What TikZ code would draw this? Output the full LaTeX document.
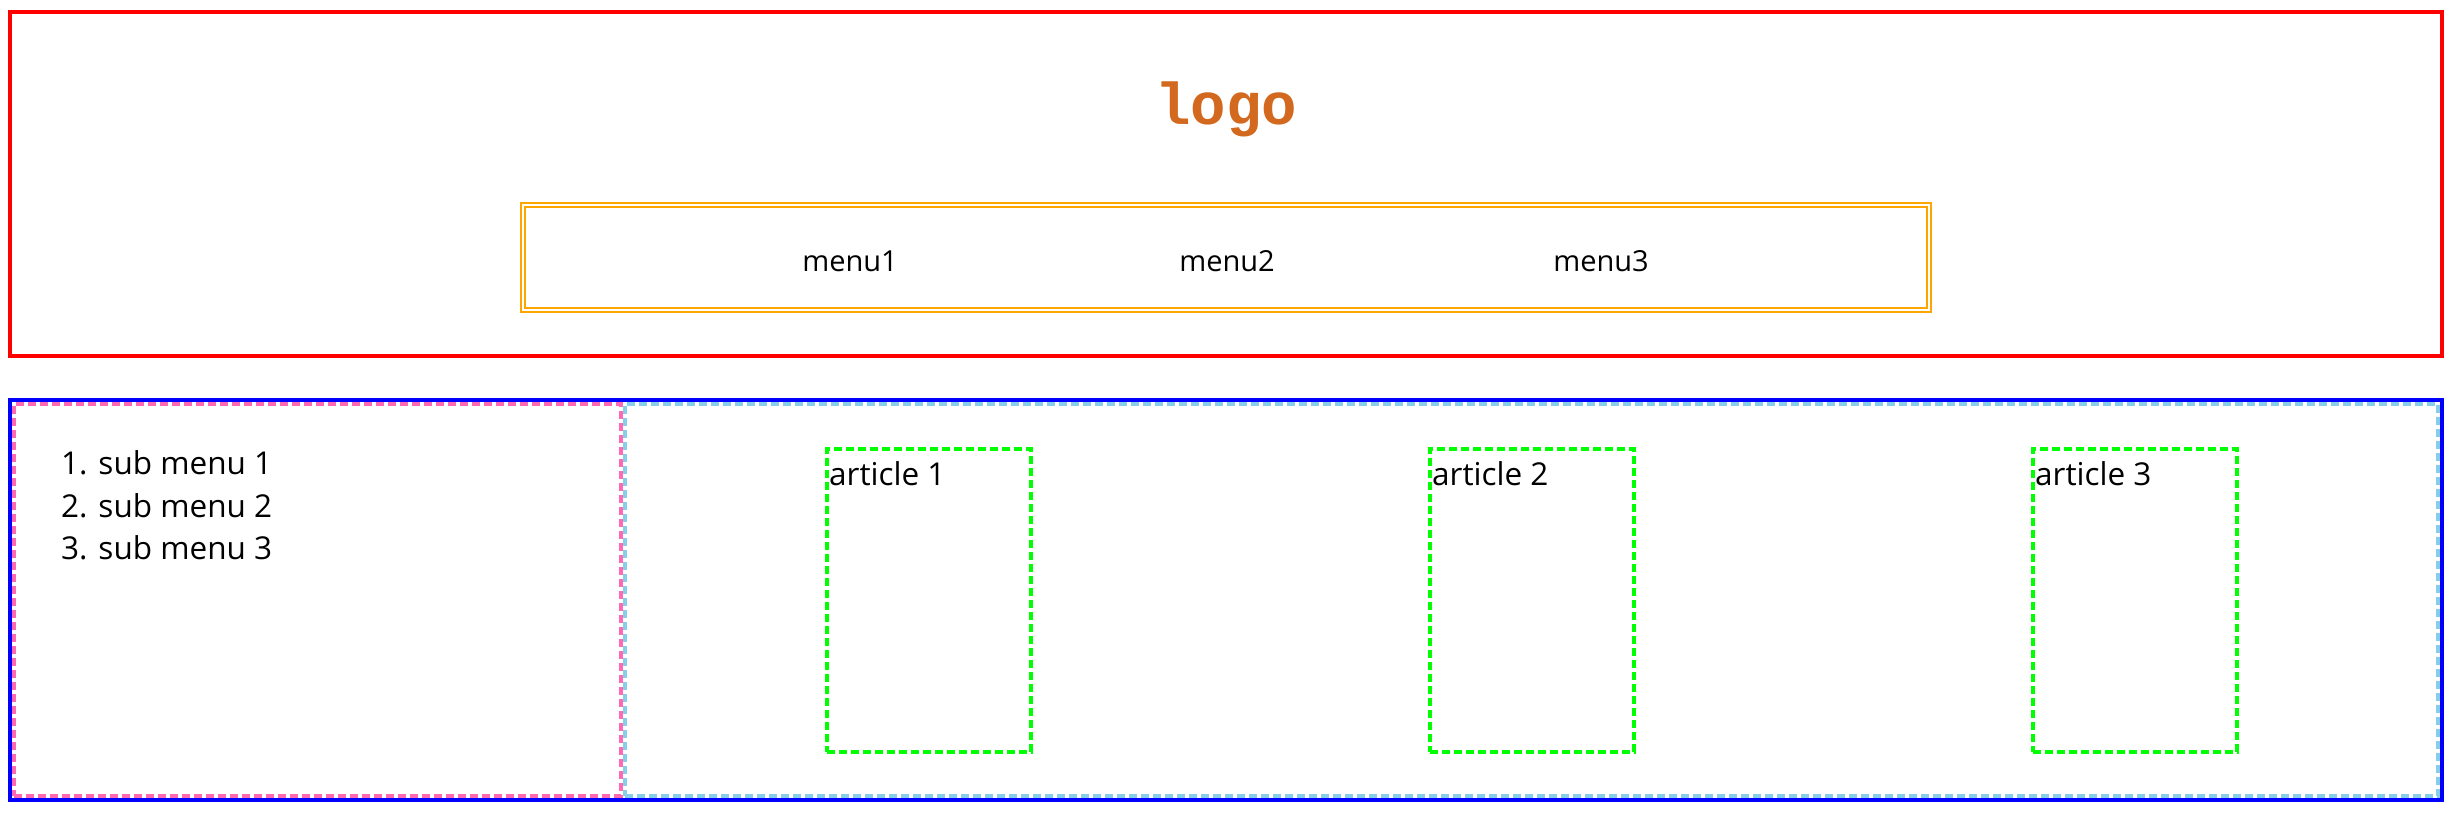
\documentclass[tikz,border=0pt]{standalone}
\usepackage{fontspec}
\setmainfont{Open Sans}
\newfontfamily\logofont{Liberation Mono}
\definecolor{cRed}{RGB}{255,0,0}
\definecolor{cBlue}{RGB}{0,0,255}
\definecolor{cOrange}{RGB}{255,165,0}
\definecolor{cPink}{RGB}{255,105,180}
\definecolor{cSky}{RGB}{135,206,235}
\definecolor{cLime}{RGB}{0,255,0}
\definecolor{cChoc}{RGB}{210,105,30}
\tikzset{
  box/.style={rectangle, inner sep=0pt, outer sep=0pt},
  dashbox/.style={box, dash pattern=on 8pt off 4pt, line width=4pt},
  article/.style={dashbox, draw=cLime, minimum width=204pt, minimum height=303pt},
  bodytext/.style={inner sep=0pt, font=\fontsize{31.5}{36}\selectfont},
  menutext/.style={inner sep=0pt, font=\fontsize{29}{34}\selectfont},
}
\begin{document}
\begin{tikzpicture}[x=1pt, y=-1pt]
\useasboundingbox[fill=white] (0,0) rectangle (2456,812);
% header
\node[box, draw=cRed, line width=4pt, minimum width=2432pt, minimum height=344pt] (header) at (1226,184) {};
\node[inner sep=0pt, anchor=base, text=cChoc, font=\logofont\bfseries\fontsize{59}{62}\selectfont] (logo) at (1226,124) {logo};
\node[box, draw=cOrange, line width=2pt, double=white, double distance=2pt, minimum width=1406pt, minimum height=105pt] (nav) at (1226,257.5) {};
\node[menutext, anchor=base] (m1) at (850,271) {menu1};
\node[menutext, anchor=base] (m2) at (1227,271) {menu2};
\node[menutext, anchor=base] (m3) at (1601,271) {menu3};
% main
\node[box, draw=cBlue, line width=4pt, minimum width=2432pt, minimum height=400pt] (main) at (1226,600) {};
\node[dashbox, draw=cPink, minimum width=607pt, minimum height=392pt] (aside) at (317.5,600) {};
\node[dashbox, draw=cSky, minimum width=1813pt, minimum height=392pt] (section) at (1531.5,600) {};
\node[bodytext, anchor=base west] (s1) at (61,474) {1. sub menu 1};
\node[bodytext, anchor=base west] (s2) at (61,517) {2. sub menu 2};
\node[bodytext, anchor=base west] (s3) at (61,559) {3. sub menu 3};
\node[article] (a1) at (929,600.5) {};
\node[article] (a2) at (1532,600.5) {};
\node[article] (a3) at (2135,600.5) {};
\node[bodytext, anchor=base west] (t1) at (829,485) {article 1};
\node[bodytext, anchor=base west] (t2) at (1432,485) {article 2};
\node[bodytext, anchor=base west] (t3) at (2035,485) {article 3};
\end{tikzpicture}
\end{document}
